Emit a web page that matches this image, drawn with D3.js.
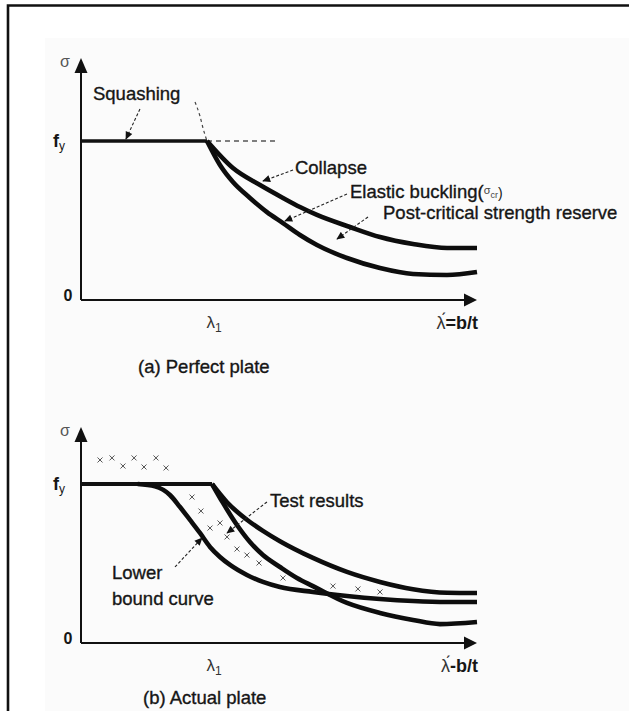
<!DOCTYPE html>
<html><head><meta charset="utf-8">
<script src="https://cdn.jsdelivr.net/npm/d3@7"></script>
<style>
html,body{margin:0;padding:0;background:#fff;}
svg{display:block;}
text{font-family:"Liberation Sans",Arial,Helvetica,sans-serif;fill:#161616;}
text.lbl{stroke:#161616;stroke-width:0.35px;}
</style></head><body>
<svg id="chart" width="629" height="711"></svg>
<script>
// ---------- data: lambda/lambda1 (x) and sigma/fy (y) ----------
const lambdaDomain = [0, 3.143];
const lambda1 = 1.0;

// (a) Perfect plate
const squashingA = [[0, 1], [1.0, 1]];
const collapseA = [[1.0,1.0],[1.206,0.830],[1.421,0.723],[1.603,0.642],[1.738,0.585],[1.873,0.535],[2.135,0.459],[2.373,0.396],[2.635,0.352],[2.905,0.327],[3.143,0.327]];
const elasticA = [[1.0,1.0],[1.103,0.849],[1.206,0.742],[1.341,0.642],[1.476,0.553],[1.603,0.484],[1.738,0.409],[1.873,0.346],[2.111,0.264],[2.373,0.201],[2.635,0.164],[2.905,0.157],[3.143,0.176]];
const eulerExtA = [[0.905,1.245],[0.944,1.157],[0.968,1.082],[1.0,1.0]];
const fyExtA = [[1.0,1],[1.563,1]];

// (b) Actual plate
const squashingB = [[0, 1], [1.04, 1]];
const collapseB = [[1.04,1.0],[1.159,0.885],[1.317,0.775],[1.444,0.705],[1.579,0.640],[1.841,0.535],[2.111,0.447],[2.373,0.384],[2.635,0.338],[2.905,0.316],[3.143,0.314]];
const elasticB = [[1.04,1.0],[1.127,0.881],[1.238,0.742],[1.341,0.635],[1.444,0.553],[1.579,0.478],[1.714,0.409],[1.841,0.358],[2.111,0.252],[2.373,0.189],[2.635,0.145],[2.849,0.119],[3.143,0.132]];
const lowerBoundB = [[0.45,1.0],[0.587,0.985],[0.706,0.931],[0.786,0.855],[0.865,0.774],[0.944,0.692],[1.024,0.604],[1.103,0.541],[1.183,0.491],[1.317,0.428],[1.444,0.384],[1.579,0.352],[1.841,0.321],[2.111,0.296],[2.373,0.277],[2.635,0.264],[2.905,0.258],[3.143,0.258]];
const testResultsB = [[0.151,1.151],[0.246,1.164],[0.333,1.113],[0.421,1.164],[0.5,1.107],[0.595,1.164],[0.675,1.101],
  [0.881,0.918],[0.952,0.830],[1.024,0.723],[1.103,0.755],[1.159,0.667],[1.238,0.591],[1.317,0.553],[1.413,0.503],[1.603,0.409],[2.0,0.358],[2.198,0.340],[2.373,0.321]];

// annotation labels (text, anchor in data units, arrow from -> to in data units)
const labelsA = [
  {text:"Squashing", at:[0.095,1.258], from:[0.468,1.201], to:[0.357,1.013]},
  {text:"Collapse", at:[1.698,0.790], from:[1.683,0.818], to:[1.444,0.748]},
  {text:"Post-critical strength reserve", at:[2.397,0.511], from:[2.278,0.522], to:[2.032,0.384]}
];
const elasticLabelA = {text:"Elastic buckling(", at:[2.135,0.640], from:[2.111,0.667], to:[1.619,0.497]};
const labelsB = [
  {text:"Test results", at:[1.5,0.857], from:[1.476,0.887], to:[1.159,0.692]}
];
const lowerLabelB = {lines:["Lower","bound curve"], at:[0.246,0.400], from:[0.746,0.478], to:[0.960,0.660]};

// ---------- drawing ----------
const svg = d3.select("#chart");
const defs = svg.append("defs");
defs.append("marker").attr("id","ah").attr("viewBox","0 0 10 10").attr("refX",9).attr("refY",5)
  .attr("markerWidth",9).attr("markerHeight",8).attr("markerUnits","userSpaceOnUse").attr("orient","auto")
  .append("path").attr("d","M0,0.5 L10,5 L0,9.5 Z").attr("fill","#111");

// faint scanned-image background and frame
svg.append("rect").attr("x",45).attr("y",38).attr("width",584).attr("height",673).attr("fill","#fbfbfb");
svg.append("path").attr("d","M629,5.5 H8 V711").attr("fill","none").attr("stroke","#111").attr("stroke-width",2.6);

const x = d3.scaleLinear().domain(lambdaDomain).range([81, 477]);
const line = d3.line().curve(d3.curveMonotoneX);

function panel(y, yTop, opts){
  const g = svg.append("g");
  const L = line.x(d=>x(d[0])).y(d=>y(d[1]));
  const x0 = x(0), y0 = y(0), xEnd = x(lambdaDomain[1]), yEnd = y(yTop);
  // axes
  g.append("line").attr("x1",x0).attr("x2",x0).attr("y1",y0).attr("y2",yEnd+10).attr("stroke","#111").attr("stroke-width",2);
  g.append("line").attr("x1",x0).attr("x2",xEnd-10).attr("y1",y0).attr("y2",y0).attr("stroke","#111").attr("stroke-width",2);
  g.append("path").attr("d",`M${x0},${yEnd} L${x0-6.5},${yEnd+15} L${x0+6.5},${yEnd+15} Z`).attr("fill","#111");
  g.append("path").attr("d",`M${xEnd},${y0} L${xEnd-13},${y0-6.5} L${xEnd-13},${y0+6.5} Z`).attr("fill","#111");
  // axis labels
  g.append("text").attr("x",x0-21).attr("y",yEnd+9).attr("font-size",16).style("fill","#555").text("σ");
  const fy = g.append("text").attr("x",x0-28).attr("y",y(1)+6).attr("font-size",18).attr("font-weight","bold");
  fy.append("tspan").text("f");
  fy.append("tspan").attr("font-size",12).attr("font-weight","normal").attr("dy",3).text("y");
  g.append("text").attr("x",x0-13).attr("y",y0+1).attr("font-size",16).attr("text-anchor","middle").attr("font-weight","bold").text("0");
  const l1 = g.append("text").attr("x",x(lambda1)+7).attr("y",y0+28).attr("font-size",17).attr("text-anchor","middle").style("fill","#333");
  l1.append("tspan").text("λ");
  l1.append("tspan").attr("font-size",12).attr("dy",4).text("1");
  g.append("text").attr("x",xEnd+1).attr("y",y0+29).attr("font-size",18).attr("text-anchor","end").attr("font-weight","bold")
    .html(`<tspan font-weight="normal" style="fill:#333">λ́</tspan>${opts.eq}b/t`);
  g.append("text").attr("class","lbl").attr("x",opts.capX).attr("y",y0+opts.capDy).attr("font-size",18.5).text(opts.caption);
  return {g, L};
}

function arrow(g, y, a){
  g.append("line").attr("x1",x(a.from[0])).attr("y1",y(a.from[1])).attr("x2",x(a.to[0])).attr("y2",y(a.to[1]))
    .attr("stroke","#222").attr("stroke-width",1.1).attr("stroke-dasharray","3,2").attr("marker-end","url(#ah)");
}

// ----- panel (a)
const yA = d3.scaleLinear().domain([0,1]).range([300,141]);
const A = panel(yA, 1.522, {caption:"(a) Perfect plate", capX:138, capDy:73, eq:"="});
A.g.append("path").attr("d",A.L(fyExtA)).attr("fill","none").attr("stroke","#555").attr("stroke-width",1.3).attr("stroke-dasharray","5,4");
A.g.append("path").attr("d",A.L(eulerExtA)).attr("fill","none").attr("stroke","#444").attr("stroke-width",1.2).attr("stroke-dasharray","3,3");
A.g.append("path").attr("d",A.L(squashingA)).attr("fill","none").attr("stroke","#111").attr("stroke-width",3.5);
[collapseA, elasticA].forEach(s=>A.g.append("path").attr("d",A.L(s)).attr("fill","none").attr("stroke","#0d0d0d").attr("stroke-width",4.6).attr("stroke-linejoin","round"));
labelsA.forEach(a=>{
  A.g.append("text").attr("class","lbl").attr("x",x(a.at[0])).attr("y",yA(a.at[1])).attr("font-size",18.5).text(a.text);
  arrow(A.g, yA, a);
});
{
  const a = elasticLabelA;
  const t = A.g.append("text").attr("x",x(a.at[0])).attr("y",yA(a.at[1])).attr("font-size",18.5);
  t.append("tspan").attr("class","lbl").style("stroke","#161616").style("stroke-width","0.35px").text(a.text);
  t.append("tspan").attr("font-size",11).attr("dy",-4).style("fill","#444").text("σ");
  t.append("tspan").attr("font-size",9).attr("dy",4).style("fill","#444").text("cr");
  t.append("tspan").attr("font-size",14).attr("dy",0).text(")");
  arrow(A.g, yA, a);
}

// ----- panel (b)
const yB = d3.scaleLinear().domain([0,1]).range([643,484]);
const B = panel(yB, 1.358, {caption:"(b) Actual plate", capX:143, capDy:61, eq:"-"});
B.g.append("path").attr("d",B.L(squashingB)).attr("fill","none").attr("stroke","#111").attr("stroke-width",4);
[lowerBoundB, collapseB, elasticB].forEach(s=>B.g.append("path").attr("d",B.L(s)).attr("fill","none").attr("stroke","#0d0d0d").attr("stroke-width",4.6).attr("stroke-linejoin","round"));
B.g.selectAll("path.cross").data(testResultsB).enter().append("path").attr("class","cross")
  .attr("d",d=>{const cx=x(d[0]), cy=yB(d[1]); return `M${cx-2.5},${cy-2.5}L${cx+2.5},${cy+2.5}M${cx-2.5},${cy+2.5}L${cx+2.5},${cy-2.5}`;})
  .attr("stroke","#555").attr("stroke-width",1);
labelsB.forEach(a=>{
  B.g.append("text").attr("class","lbl").attr("x",x(a.at[0])).attr("y",yB(a.at[1])).attr("font-size",18.5).text(a.text);
  arrow(B.g, yB, a);
});
{
  const a = lowerLabelB;
  a.lines.forEach((s,i)=>B.g.append("text").attr("class","lbl").attr("x",x(a.at[0])).attr("y",yB(a.at[1])+i*26).attr("font-size",18.5).text(s));
  arrow(B.g, yB, a);
}
</script>
</body></html>
